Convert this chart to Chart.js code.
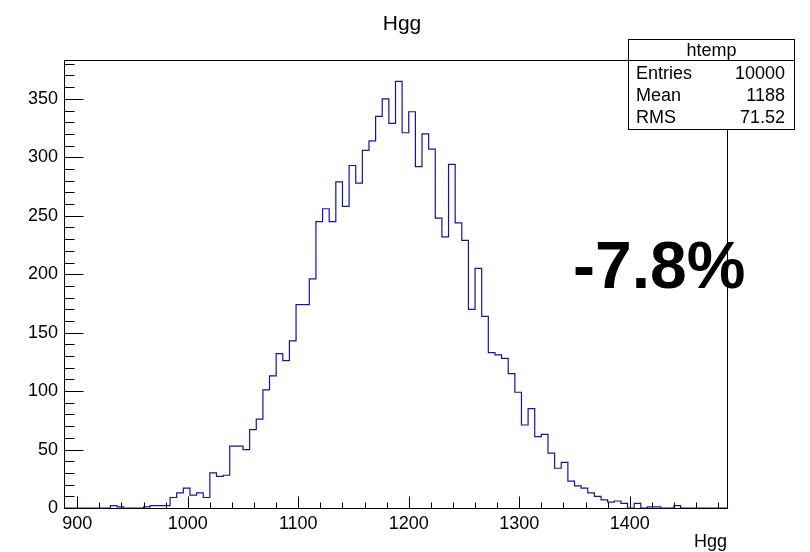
<!DOCTYPE html>
<html>
<head>
<meta charset="utf-8">
<script src="https://cdn.jsdelivr.net/npm/chart.js@4.4.1/dist/chart.umd.min.js"></script>
<style>
  html, body { margin: 0; padding: 0; background: #fff; }
  #wrap { width: 810px; height: 552px; }
</style>
</head>
<body>
<div id="wrap"><canvas id="hist" width="810" height="552"></canvas></div>
<script>
// histogram "htemp" of Hgg, 100 bins from 888 to 1488
const histTitle = "Hgg";
const xTitle = "Hgg";
const xMin = 888;
const xMax = 1488;
const binWidth = 6;
const binCounts = [
  0, 0, 0, 0, 0, 0, 0, 2, 1, 0,
  0, 0, 1, 2, 2, 2, 9, 13, 17, 11,
  13, 9, 30, 27, 28, 53, 53, 50, 67, 76,
  101, 113, 132, 126, 143, 174, 174, 196, 245, 256,
  245, 279, 258, 293, 278, 306, 314, 335, 350, 329,
  365, 321, 339, 292, 320, 307, 248, 232, 294, 244,
  229, 170, 205, 164, 133, 131, 128, 115, 99, 71,
  85, 61, 63, 47, 34, 39, 23, 19, 17, 13,
  10, 7, 5, 6, 4, 0, 4, 0, 1, 1,
  0, 0, 2, 0, 0, 0, 0, 0, 0, 0
];
const xTickLabels = [900, 1000, 1100, 1200, 1300, 1400];
const yTickLabels = [0, 50, 100, 150, 200, 250, 300, 350];
const yMax = 383.25;

const statsName = "htemp";
const statsLabels = ["Entries", "Mean", "RMS"];
const statsValues = ["10000", "1188", "71.52"];
const bigNote = "-7.8%";

const FONT = '"Liberation Sans", Arial, Helvetica, sans-serif';
const X_MINOR = 20;
const Y_MINOR = 10;

const points = binCounts.map((c, i) => ({ x: xMin + i * binWidth, y: c }));
points.push({ x: xMax, y: 0 });

// frame, inside ticks, stats box and texts the ROOT way
const rootDecor = {
  id: 'rootDecor',
  beforeDatasetsDraw(chart) {
    const { ctx, chartArea: a } = chart;
    ctx.save();
    ctx.strokeStyle = '#000';
    ctx.lineWidth = 1;
    ctx.strokeRect(Math.round(a.left) + 0.5, Math.round(a.top) + 0.5,
      Math.round(a.right - a.left), Math.round(a.bottom - a.top));
    ctx.restore();
  },
  afterDatasetsDraw(chart) {
    const { ctx, chartArea: a, scales: { x, y } } = chart;
    ctx.save();
    ctx.strokeStyle = '#000';
    ctx.lineWidth = 1;
    ctx.beginPath();
    const by = Math.round(a.bottom) + 0.5;
    for (let v = xTickLabels[0]; v <= xMax; v += X_MINOR) {
      const px = Math.round(x.getPixelForValue(v)) + 0.5;
      const len = (v % 100 === 0) ? 12 : 6;
      ctx.moveTo(px, by);
      ctx.lineTo(px, by - len);
    }
    const lx = Math.round(a.left) + 0.5;
    for (let v = 0; v <= yMax; v += Y_MINOR) {
      const py = Math.round(y.getPixelForValue(v)) + 0.5;
      const len = (v % 50 === 0) ? 19 : 10;
      ctx.moveTo(lx, py);
      ctx.lineTo(lx + len, py);
    }
    ctx.stroke();
    ctx.restore();
  },
  afterDraw(chart) {
    const { ctx, chartArea: a } = chart;
    ctx.save();
    ctx.fillStyle = '#000';

    // title
    ctx.font = '21px ' + FONT;
    ctx.textAlign = 'center';
    ctx.textBaseline = 'alphabetic';
    ctx.fillText(histTitle, 402, 30);

    // x axis title
    ctx.font = '18px ' + FONT;
    ctx.textAlign = 'right';
    ctx.fillText(xTitle, Math.round(a.right), 547);

    // stats box
    const bx = 628.5, bw = 166, btop = 39.5, bh = 90, hdr = 21;
    ctx.fillStyle = '#fff';
    ctx.fillRect(bx, btop, bw, bh);
    ctx.strokeStyle = '#000';
    ctx.lineWidth = 1;
    ctx.strokeRect(bx, btop, bw, bh);
    ctx.beginPath();
    ctx.moveTo(bx, btop + hdr);
    ctx.lineTo(bx + bw, btop + hdr);
    ctx.stroke();
    ctx.fillStyle = '#000';
    ctx.font = '18px ' + FONT;
    ctx.textBaseline = 'middle';
    ctx.textAlign = 'center';
    ctx.fillText(statsName, bx + bw / 2, 51);
    for (let i = 0; i < statsLabels.length; i++) {
      const ty = 74 + i * 22;
      ctx.textAlign = 'left';
      ctx.fillText(statsLabels[i], 636, ty);
      ctx.textAlign = 'right';
      ctx.fillText(statsValues[i], 785, ty);
    }

    // big note
    ctx.font = 'bold 66px ' + FONT;
    ctx.textAlign = 'left';
    ctx.textBaseline = 'alphabetic';
    ctx.fillText(bigNote, 573, 288);
    ctx.restore();
  }
};

const tickFont = { family: FONT, size: 18 };

new Chart(document.getElementById('hist').getContext('2d'), {
  type: 'line',
  data: {
    datasets: [{
      data: points,
      stepped: true,
      borderColor: '#1414a8',
      borderWidth: 1.2,
      pointRadius: 0,
      fill: false,
      tension: 0
    }]
  },
  options: {
    responsive: false,
    animation: false,
    devicePixelRatio: 1,
    layout: { padding: { top: 60, right: 83, left: 0, bottom: 0 } },
    plugins: {
      legend: { display: false },
      tooltip: { enabled: false },
      title: { display: false }
    },
    scales: {
      x: {
        type: 'linear',
        min: xMin,
        max: xMax,
        grid: { display: false, drawTicks: false },
        border: { display: false },
        afterBuildTicks: (s) => { s.ticks = xTickLabels.map(v => ({ value: v })); },
        afterFit: (s) => { s.height = 44; },
        ticks: {
          font: tickFont, color: '#000', padding: 5, maxRotation: 0, autoSkip: false,
          callback: (v) => String(v)
        }
      },
      y: {
        type: 'linear',
        min: 0,
        max: yMax,
        grid: { display: false, drawTicks: false },
        border: { display: false },
        afterBuildTicks: (s) => { s.ticks = yTickLabels.map(v => ({ value: v })); },
        afterFit: (s) => { s.width = 64; },
        ticks: { font: tickFont, color: '#000', padding: 6, autoSkip: false, callback: (v) => String(v) }
      }
    }
  },
  plugins: [rootDecor]
});
</script>
</body>
</html>
